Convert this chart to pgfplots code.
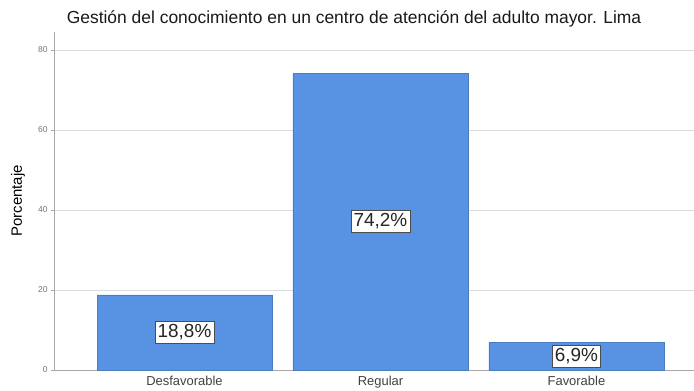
\documentclass[border=0pt]{standalone}
\usepackage{fontspec}
\setmainfont{Liberation Sans}
\usepackage{pgfplots}
\pgfplotsset{compat=1.18}
\definecolor{barblue}{HTML}{5892E2}
\definecolor{gridc}{HTML}{DCDCDC}
\definecolor{axisc}{HTML}{A8A8A8}
\begin{document}
\begin{tikzpicture}[x=1bp,y=1bp]
\path[use as bounding box] (0,0) rectangle (694,390);
\begin{axis}[
  at={(54bp,20bp)}, anchor=south west,
  scale only axis, width=640bp, height=338bp,
  xmin=-0.666, xmax=2.6, ymin=0, ymax=84.5,
  xtick={0,1,2}, xticklabels={Desfavorable,Regular,Favorable},
  ytick={0,20,40,60,80},
  /pgf/number format/assume math mode=true,
  ymajorgrids, grid style={gridc, line width=0.9bp},
  axis x line*=bottom, axis y line*=left,
  axis line style={axisc, line width=0.9bp, -},
  tick align=outside, major tick length=3bp,
  xtick style={draw=none}, ytick style={axisc},
  yticklabel style={font=\fontsize{8.5}{10}\selectfont, text=black!55},
  xticklabel style={font=\fontsize{13}{15}\selectfont, text=black!75},
  ylabel={Porcentaje},
  ylabel style={font=\fontsize{15}{17}\selectfont, at={(axis description cs:-0.05625,0.5)}, anchor=center},
  bar width=175bp,
  clip=false,
]
\addplot[ybar, fill=barblue, draw=barblue!85!black, line width=0.4bp] coordinates {(0,18.8) (1,74.2) (2,6.9)};
\addplot[only marks, mark=none, point meta=explicit symbolic,
  nodes near coords,
  every node near coord/.style={anchor=center, fill=white, draw=black!70, line width=0.6bp, inner xsep=2.5bp, inner ysep=3bp, font=\fontsize{19}{21}\selectfont, text=black!85}]
  coordinates {(0,9.4)[18,8\%] (1,37.1)[74,2\%] (2,3.45)[6,9\%]};
\end{axis}
\node[font=\fontsize{17.5}{19}\selectfont, text=black!90] at (354,371) {Gestión del conocimiento en un centro de atención del adulto mayor. Lima};
\end{tikzpicture}
\end{document}
